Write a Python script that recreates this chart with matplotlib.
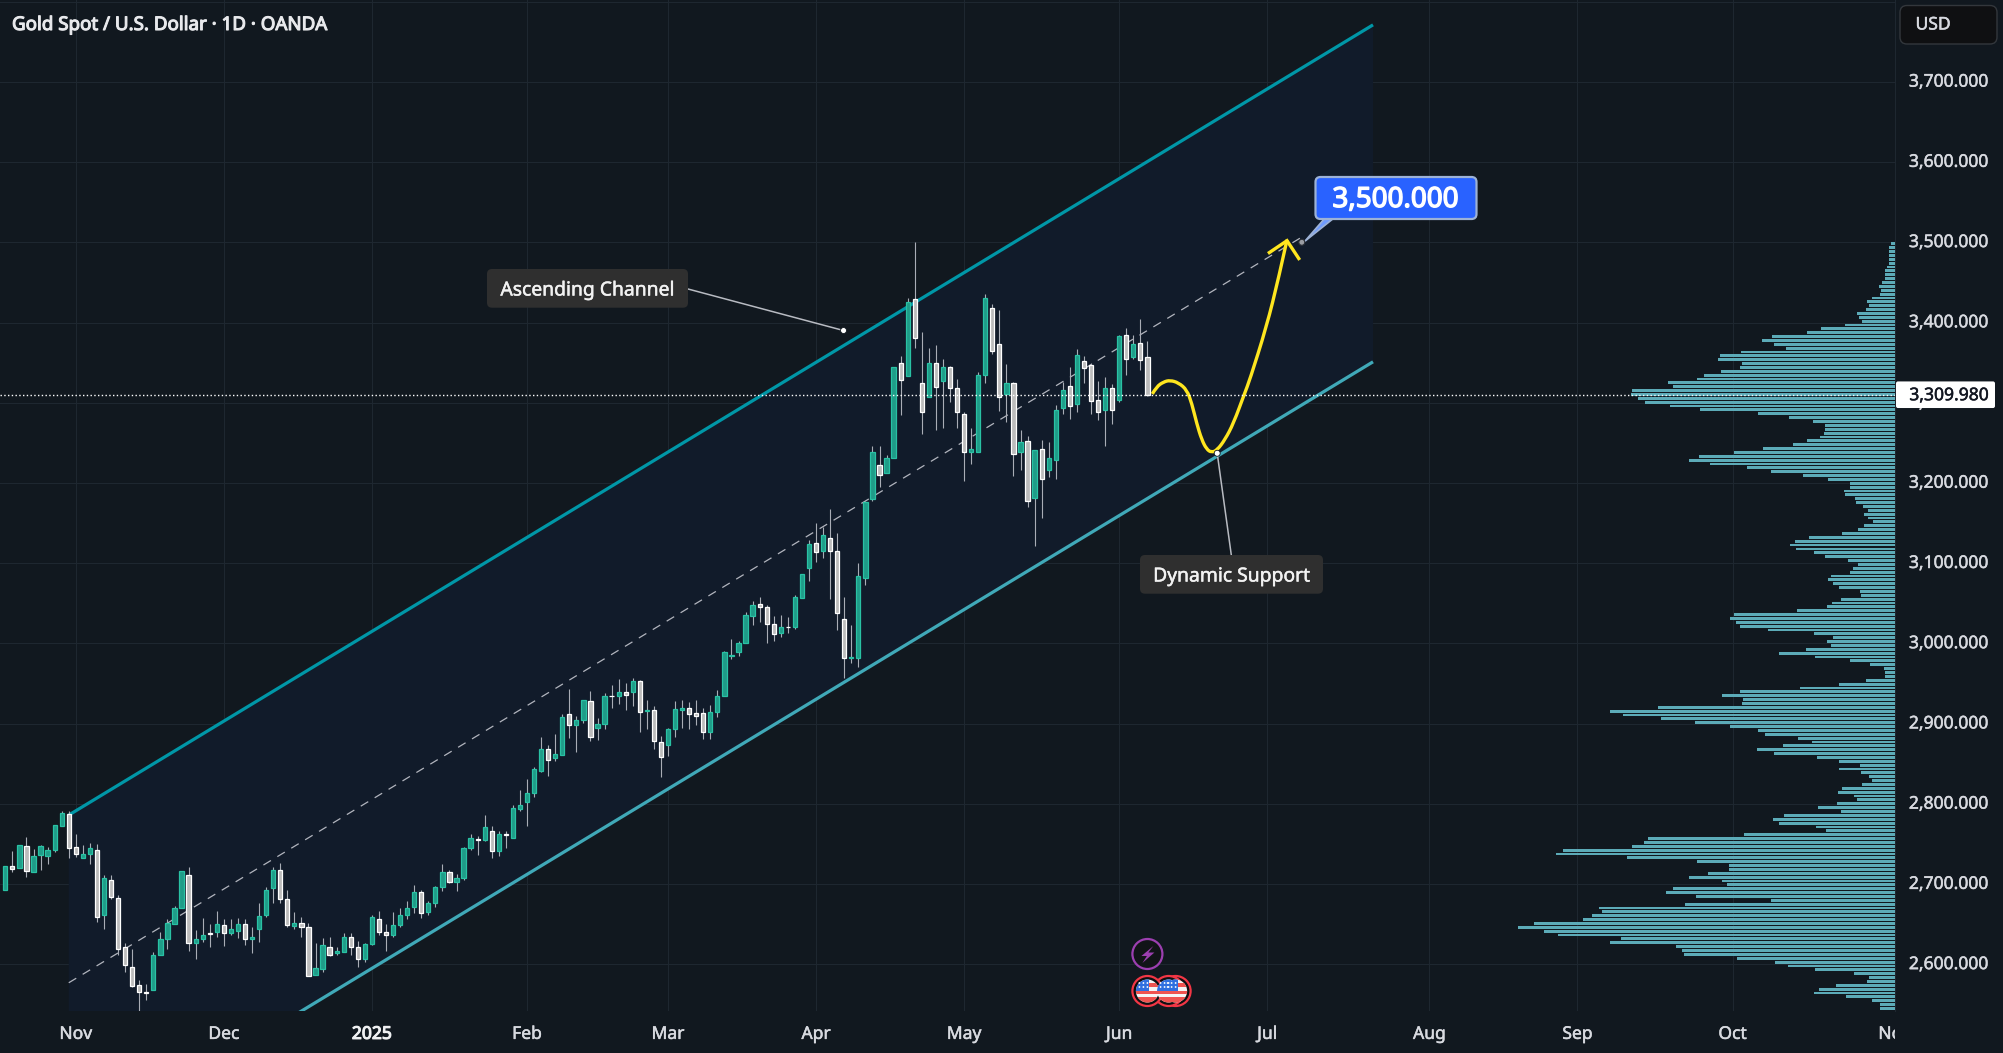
"""
Gold spot daily candles with an ascending channel, a projected path and a
fixed-range volume profile along the right edge.
"""
import matplotlib
matplotlib.use("Agg")
import matplotlib.patheffects as pe
import matplotlib.pyplot as plt
import numpy as np
from matplotlib.patches import Circle, FancyBboxPatch, PathPatch, Polygon, Rectangle
from matplotlib.path import Path
from matplotlib.ticker import FuncFormatter
from matplotlib.transforms import Bbox, ScaledTranslation

BG = "#11181f"
CHANNEL_FILL = "#111b2a"
GRID = "#1e2730"
TEXT = "#d8dae0"

OPEN = [
    2693, 2723, 2720, 2747, 2715, 2736, 2735, 2742, 2773, 2787,
    2746, 2732, 2737, 2743, 2662, 2705, 2683, 2621, 2597, 2574,
    2566, 2568, 2611, 2632, 2650, 2670, 2711, 2627, 2631, 2639,
    2640, 2649, 2639, 2642, 2650, 2632, 2644, 2661, 2695, 2718,
    2681, 2648, 2652, 2647, 2587, 2594, 2622, 2614, 2615, 2634,
    2622, 2606, 2625, 2657, 2640, 2636, 2649, 2662, 2671, 2690,
    2665, 2677, 2696, 2715, 2703, 2708, 2745, 2756, 2755, 2766,
    2741, 2763, 2758, 2794, 2802, 2813, 2841, 2868, 2857, 2861,
    2912, 2898, 2905, 2928, 2894, 2899, 2935, 2934, 2939, 2940,
    2953, 2916, 2917, 2877, 2873, 2893, 2917, 2919, 2913, 2913,
    2890, 2915, 2935, 2984, 2989, 3001, 3034, 3049, 3045, 3024,
    3013, 3021, 3020, 3056, 3094, 3125, 3115, 3132, 3115, 3031,
    2982, 2982, 3081, 3180, 3223, 3213, 3231, 3349, 3333, 3429,
    3325, 3307, 3349, 3327, 3345, 3318, 3286, 3239, 3238, 3334,
    3418, 3373, 3311, 3325, 3238, 3252, 3181, 3242, 3216, 3228,
    3293, 3321, 3298, 3352, 3347, 3304, 3291, 3318, 3304, 3385,
    3357, 3375, 3357,
]
HIGH = [
    2722, 2741, 2749, 2759, 2744, 2749, 2746, 2774, 2791, 2791,
    2762, 2749, 2751, 2750, 2711, 2711, 2686, 2627, 2619, 2581,
    2576, 2615, 2640, 2656, 2673, 2716, 2721, 2643, 2658, 2650,
    2666, 2656, 2656, 2658, 2656, 2646, 2676, 2696, 2721, 2726,
    2693, 2665, 2659, 2652, 2626, 2633, 2634, 2621, 2639, 2639,
    2629, 2627, 2661, 2666, 2650, 2665, 2670, 2679, 2699, 2693,
    2679, 2697, 2725, 2717, 2713, 2746, 2763, 2760, 2786, 2773,
    2766, 2766, 2798, 2817, 2831, 2846, 2883, 2873, 2887, 2912,
    2943, 2909, 2930, 2941, 2907, 2938, 2948, 2956, 2951, 2957,
    2954, 2930, 2922, 2885, 2895, 2928, 2930, 2927, 2930, 2919,
    2923, 2942, 2990, 3005, 3003, 3039, 3053, 3058, 3048, 3034,
    3036, 3033, 3060, 3087, 3129, 3150, 3145, 3168, 3137, 3058,
    3023, 3100, 3177, 3246, 3246, 3235, 3344, 3358, 3431, 3500,
    3388, 3368, 3372, 3354, 3346, 3329, 3288, 3269, 3338, 3435,
    3423, 3415, 3348, 3326, 3266, 3258, 3241, 3253, 3251, 3297,
    3326, 3345, 3367, 3358, 3350, 3327, 3332, 3323, 3384, 3393,
    3385, 3404, 3377,
]
LOW = [
    2693, 2715, 2720, 2709, 2715, 2718, 2725, 2740, 2772, 2733,
    2734, 2732, 2725, 2653, 2644, 2682, 2612, 2591, 2572, 2537,
    2555, 2568, 2611, 2619, 2650, 2670, 2617, 2606, 2628, 2622,
    2634, 2623, 2636, 2633, 2624, 2614, 2628, 2659, 2677, 2676,
    2647, 2644, 2634, 2585, 2587, 2591, 2610, 2611, 2615, 2612,
    2597, 2603, 2624, 2637, 2616, 2634, 2646, 2657, 2664, 2658,
    2661, 2671, 2691, 2701, 2691, 2705, 2743, 2736, 2754, 2732,
    2735, 2745, 2758, 2791, 2772, 2808, 2840, 2835, 2854, 2861,
    2882, 2865, 2901, 2878, 2880, 2893, 2920, 2925, 2917, 2922,
    2889, 2893, 2869, 2834, 2860, 2883, 2895, 2893, 2898, 2881,
    2881, 2908, 2934, 2980, 2984, 3001, 3023, 3027, 3001, 3003,
    3008, 3013, 3018, 3056, 3078, 3102, 3106, 3055, 3017, 2957,
    2976, 2970, 3073, 3178, 3195, 3212, 3231, 3285, 3333, 3368,
    3261, 3307, 3266, 3269, 3301, 3268, 3203, 3224, 3238, 3324,
    3361, 3290, 3276, 3209, 3216, 3170, 3122, 3156, 3207, 3205,
    3286, 3280, 3289, 3325, 3286, 3278, 3246, 3273, 3301, 3335,
    3355, 3341, 3309,
]
CLOSE = [
    2722, 2719, 2749, 2716, 2735, 2747, 2742, 2774, 2788, 2745,
    2737, 2737, 2745, 2659, 2707, 2684, 2619, 2599, 2573, 2565,
    2564, 2612, 2632, 2651, 2670, 2716, 2626, 2632, 2636, 2638,
    2650, 2639, 2644, 2650, 2632, 2634, 2660, 2693, 2718, 2681,
    2649, 2652, 2646, 2585, 2595, 2624, 2612, 2617, 2634, 2622,
    2606, 2625, 2659, 2640, 2636, 2649, 2662, 2670, 2690, 2664,
    2677, 2696, 2715, 2703, 2708, 2745, 2757, 2755, 2771, 2741,
    2763, 2761, 2795, 2798, 2814, 2843, 2868, 2855, 2862, 2908,
    2898, 2904, 2929, 2883, 2899, 2935, 2934, 2939, 2936, 2953,
    2915, 2917, 2878, 2858, 2893, 2918, 2919, 2912, 2910, 2889,
    2915, 2934, 2989, 2985, 3001, 3035, 3048, 3045, 3024, 3012,
    3020, 3020, 3058, 3086, 3124, 3114, 3135, 3115, 3038, 2982,
    2983, 3084, 3176, 3238, 3210, 3231, 3344, 3328, 3425, 3381,
    3288, 3349, 3319, 3344, 3318, 3288, 3238, 3242, 3334, 3431,
    3365, 3307, 3325, 3236, 3251, 3178, 3241, 3205, 3231, 3291,
    3316, 3296, 3359, 3343, 3302, 3289, 3318, 3291, 3383, 3354,
    3373, 3353, 3309.98,
]

# Volume per price row, highest row first (arbitrary units).
VOLUME = [
    13, 18, 18, 18, 18, 18, 24, 30, 30, 30, 39, 48, 42, 45, 69, 84, 78, 87,
    114, 108, 99, 150, 222, 264, 369, 399, 363, 327, 462, 525, 531, 459, 465,
    522, 573, 594, 681, 666, 789, 792, 771, 750, 675, 585, 411, 318, 246, 210,
    210, 213, 225, 264, 306, 396, 483, 588, 618, 555, 444, 372, 276, 201, 135,
    135, 153, 150, 120, 117, 96, 81, 93, 81, 66, 93, 111, 159, 258, 300, 315,
    297, 243, 210, 141, 111, 126, 135, 192, 201, 186, 168, 105, 102, 162, 189,
    204, 294, 483, 495, 477, 465, 381, 243, 186,
    204, 192, 267, 348, 240, 135, 75, 33, 30, 30, 87, 168, 285, 465, 519, 456,
    459, 711, 855, 816, 702, 600, 495, 411, 390, 291, 249, 336, 414, 363, 234,
    168, 105, 168, 102, 78, 69, 99, 159, 171, 123, 114, 174, 231, 162, 333,
    366, 348, 237, 207, 453, 741, 753, 789, 996, 1017, 804, 594, 498, 498, 561,
    618, 519, 504, 666, 687, 597, 372, 630, 888, 879, 909, 936, 1083, 1131,
    1053, 1011, 822, 855, 657, 639, 633, 474, 360, 321, 240, 123, 78, 84, 177,
    228, 243, 147, 69, 45, 45,
]
PROFILE_TOP = 3498
PROFILE_BOTTOM = 2545

PRICE_TICKS = [2600, 2700, 2800, 2900, 3000, 3100, 3200, 3300, 3400, 3500, 3600, 3700, 3800]
MONTH_BARS = [10, 31, 52, 74, 94, 115, 136, 158, 179, 202, 223, 245, 268]
MONTH_LABELS = ["Nov", "Dec", "2025", "Feb", "Mar", "Apr", "May", "Jun", "Jul", "Aug", "Sep", "Oct", "Nov"]

# Channel drawing, in (bar, price).
CHANNEL_BARS = [9, 194]
UPPER_PRICES = [2786, 3771]
LOWER_PRICES = [2366, 3351]
MID_BARS = [9, 184]
MID_PRICES = [2577, 3507]

# Projected path after the last candle.
PATH_BARS = [
    162.7, 163.3, 164.3, 165.2, 166.4, 167.6, 168.3, 169.0, 169.7, 170.4,
    171.1, 171.9, 173.0, 174.2, 175.8, 176.5, 178.9, 180.6, 181.8,
]
PATH_PRICES = [
    3311, 3320, 3326, 3328, 3325, 3316, 3299, 3274, 3254, 3242,
    3238, 3241, 3254, 3274, 3312, 3328, 3395, 3455, 3503,
]
ARROW_BARS = [179.1, 181.8, 183.6]
ARROW_PRICES = [3486, 3502, 3478]

LAST_PRICE = 3309.98
TARGET_PRICE = 3500.0
TARGET_BAR = 183.9
LABEL_DOTS = [(118.9, 3390), (171.9, 3237)]
EVENT_BARS = [166, 165, 162]
LIGHTNING_BAR = 162

W, H = 2003, 1053
PLOT_RIGHT, PLOT_BOTTOM = 1895, 1011

plt.rcParams["font.family"] = ["Noto Sans", "DejaVu Sans"]


def heavier(text, width=0.35):
    """Thicken a regular-weight label; the installed Noto Sans has no bold cut."""
    text.set_path_effects([pe.withStroke(linewidth=width, foreground=text.get_color())])
    return text


fig = plt.figure(figsize=(W / 100, H / 100), dpi=100, facecolor=BG)
ax = fig.add_axes([0, 1 - PLOT_BOTTOM / H, PLOT_RIGHT / W, PLOT_BOTTOM / H], facecolor=BG)
ax.set_xlim(-0.752, 268.04)
ax.set_ylim(2541.8, 3802)

ax.grid(True, color=GRID, linewidth=0.8)
ax.set_axisbelow(True)
for name, spine in ax.spines.items():
    spine.set_visible(name == "right")
    spine.set_color(GRID)
    spine.set_linewidth(0.8)

ax.yaxis.tick_right()
ax.set_yticks(PRICE_TICKS)
# the 3,800 line stays but its label would sit under the currency box
ax.yaxis.set_major_formatter(FuncFormatter(lambda v, _: "" if v >= 3800 else f"{v:,.3f}"))
ax.tick_params(axis="y", length=0, pad=10, labelsize=12.6, labelcolor=TEXT)
ax.set_xticks(MONTH_BARS)
ax.set_xticklabels(MONTH_LABELS)
ax.tick_params(axis="x", length=0, pad=10, labelsize=12.6, labelcolor=TEXT)
fig.canvas.draw()
raise_labels = ScaledTranslation(0, 2.2 / 100, fig.dpi_scale_trans)
for label in ax.get_yticklabels():
    label.set_transform(label.get_transform() + raise_labels)
    heavier(label)
for label in ax.get_xticklabels():
    label.set_clip_box(Bbox([[0, 0], [PLOT_RIGHT, H]]))
    label.set_clip_on(True)
    if label.get_text() == "2025":
        label.set_color("#f0f1f3")
        heavier(label, 0.8)
    else:
        heavier(label)

# Channel band and its three lines
bars = np.array(CHANNEL_BARS)
ax.fill_between(bars, LOWER_PRICES, UPPER_PRICES, color=CHANNEL_FILL, linewidth=0, zorder=1)
ax.plot(CHANNEL_BARS, UPPER_PRICES, color="#0097a7", linewidth=2.3, zorder=2.5, solid_capstyle="butt")
ax.plot(CHANNEL_BARS, LOWER_PRICES, color="#40a9b8", linewidth=2.3, zorder=2.5, solid_capstyle="butt")
ax.plot(MID_BARS, MID_PRICES, color="#b2b5be", linewidth=0.9, linestyle=(0, (7, 6)), zorder=2)

# Candles
o, h, l, c = map(np.array, (OPEN, HIGH, LOW, CLOSE))
idx = np.arange(len(o))
up = c >= o
ax.vlines(idx, l, h, color="#a9adb6", linewidth=0.8, zorder=3)
ax.bar(idx[up], (c - o)[up], bottom=o[up], width=0.6, color="#1f9c88",
       edgecolor="#29c2a4", linewidth=0.9, zorder=4)
ax.bar(idx[~up], (c - o)[~up], bottom=o[~up], width=0.6, color="#bcbcbc",
       edgecolor="#ffffff", linewidth=0.9, zorder=4)

# Projected path, smoothed by using the points as quadratic control points
pts = np.column_stack([PATH_BARS, PATH_PRICES])
verts = [pts[0]]
codes = [Path.MOVETO]
for a, b in zip(pts[1:-2], pts[2:-1]):
    verts += [a, (a + b) / 2]
    codes += [Path.CURVE3, Path.CURVE3]
verts += [pts[-2], pts[-1]]
codes += [Path.CURVE3, Path.CURVE3]
ax.add_patch(PathPatch(Path(verts, codes), fill=False, edgecolor="#ffe61f", linewidth=2.4, zorder=6))
ax.plot(ARROW_BARS, ARROW_PRICES, color="#ffe61f", linewidth=2.4, zorder=6,
        solid_joinstyle="miter", solid_capstyle="butt")

# Volume profile hangs off the right edge; one unit is a third of a pixel
ax2 = ax.twiny()
ax2.set_xlim(PLOT_RIGHT * 3, 0)
ax2.axis("off")
levels = np.linspace(PROFILE_TOP, PROFILE_BOTTOM, len(VOLUME))
step = abs(levels[1] - levels[0])
ax2.barh(levels, VOLUME, height=step * 0.74, color="#5cabb8", linewidth=0)
ax2.axhline(LAST_PRICE, color="#ffffff", linewidth=1.0, linestyle=(0, (1, 1.7)), zorder=7)

# Everything below is placed in figure pixels on a full-size overlay
ui = fig.add_axes([0, 0, 1, 1])
ui.set_xlim(0, W)
ui.set_ylim(H, 0)
ui.axis("off")
ui.patch.set_alpha(0)


def to_px(bar, price):
    """Convert chart coordinates to overlay pixels."""
    x, y = ax.transData.transform((bar, price))
    return x, H - y


def box(x0, y0, x1, y1, face, edge="none", lw=0, radius=5, zorder=5):
    ui.add_patch(FancyBboxPatch((x0, y0), x1 - x0, y1 - y0,
                                boxstyle=f"round,pad=0,rounding_size={radius}",
                                facecolor=face, edgecolor=edge, linewidth=lw, zorder=zorder))


def draw_flag(cx, cy):
    """US-flag event marker with a red ring."""
    ui.add_patch(Circle((cx, cy), 15, facecolor="#0d0f12", edgecolor="#f23645", linewidth=1.6, zorder=8))
    disc = Circle((cx, cy), 11.5, facecolor="#f5f5f5", edgecolor="none", zorder=9)
    ui.add_patch(disc)
    parts = [
        Rectangle((cx - 12, cy - 8), 24, 3.5, facecolor="#ef5350", zorder=9.1),
        Rectangle((cx - 12, cy - 0.5), 24, 3.5, facecolor="#ef5350", zorder=9.1),
        Rectangle((cx - 12, cy + 6), 24, 6, facecolor="#ef5350", zorder=9.1),
        Rectangle((cx - 12, cy - 12), 14, 12, facecolor="#2f6fe0", zorder=9.2),
    ]
    for part in parts:
        ui.add_patch(part)
        part.set_clip_path(disc)
    for dx, dy in [(-8, -8), (-4, -8), (0, -8), (-8, -4), (-4, -4), (0, -4)]:
        ui.add_patch(Circle((cx + dx, cy + dy), 0.9, facecolor="#ffffff", edgecolor="none", zorder=9.3))


heavier(ui.text(12, 25, "Gold Spot / U.S. Dollar · 1D · OANDA", color="#e8e9ec", fontsize=13.5,
                va="center", ha="left"), 0.8)

box(1900, 5.5, 1997, 44, "#0f1012", edge="#33373c", lw=1.0, radius=7)
heavier(ui.text(1915.5, 24.5, "USD", color=TEXT, fontsize=12.6, va="center", ha="left", zorder=6))

# Last price tag
_, last_y = to_px(0, LAST_PRICE)
box(1896, last_y - 13.3, 1995, last_y + 13.3, "#ffffff", radius=2)
heavier(ui.text(1909.3, last_y + 0.5, f"{LAST_PRICE:,.3f}", color="#131722", fontsize=12.6,
                va="center", ha="left", zorder=6))

# Callouts
ac_x, ac_y = to_px(*LABEL_DOTS[0])
ds_x, ds_y = to_px(*LABEL_DOTS[1])
ui.plot([688, ac_x], [289, ac_y], color="#b8bbc2", linewidth=1.1, zorder=4)
ui.plot([ds_x, 1231.3], [ds_y, 555], color="#b8bbc2", linewidth=1.1, zorder=4)
for x, y in ((ac_x, ac_y), (ds_x, ds_y)):
    ui.add_patch(Circle((x, y), 3, facecolor="#ffffff", edgecolor="#11181f", linewidth=0.6, zorder=6))
box(487, 269, 688, 307.7, "#2f2f2f")
heavier(ui.text(587.5, 290.5, "Ascending Channel", color="#f2f2f2", fontsize=13.9, va="center", ha="center", zorder=6))
box(1140, 555, 1323, 593.7, "#2f2f2f")
heavier(ui.text(1231.5, 576.5, "Dynamic Support", color="#f2f2f2", fontsize=13.9, va="center", ha="center", zorder=6))

# Target callout
tx, ty = to_px(TARGET_BAR, TARGET_PRICE)
ui.add_patch(Polygon([(1325, 218), (1334, 218), (tx + 3, ty - 1)], closed=True,
                     facecolor="#6f9bff", edgecolor="#9db2d6", linewidth=1.2, zorder=5))
box(1315.5, 177, 1476.5, 219, "#2962ff", edge="#9db2d6", lw=1.6, radius=5, zorder=5.5)
heavier(ui.text(1395.5, 200, f"{TARGET_PRICE:,.3f}", color="#ffffff", fontsize=20,
                va="center", ha="center", zorder=6), 1.0)
ui.add_patch(Circle((tx, ty), 3, facecolor="#9a9da3", edgecolor="#2a2e35", linewidth=0.8, zorder=6))

# Event markers sit at a fixed height under the candles
lx, _ = to_px(LIGHTNING_BAR, LAST_PRICE)
ui.add_patch(Circle((lx, 954), 15, facecolor="#111417", edgecolor="#9c3fb0", linewidth=1.6, zorder=8))
ui.add_patch(Polygon([(lx + 6, 946), (lx - 6, 956), (lx - 0.5, 956), (lx - 5, 963), (lx + 7, 952.5), (lx + 1, 952.5)],
                     closed=True, facecolor="#9c3fb0", edgecolor="none", zorder=9))
for bar in EVENT_BARS:
    ex, _ = to_px(bar, LAST_PRICE)
    draw_flag(ex, 991)

fig.savefig("out.png", dpi=100, facecolor=BG)
